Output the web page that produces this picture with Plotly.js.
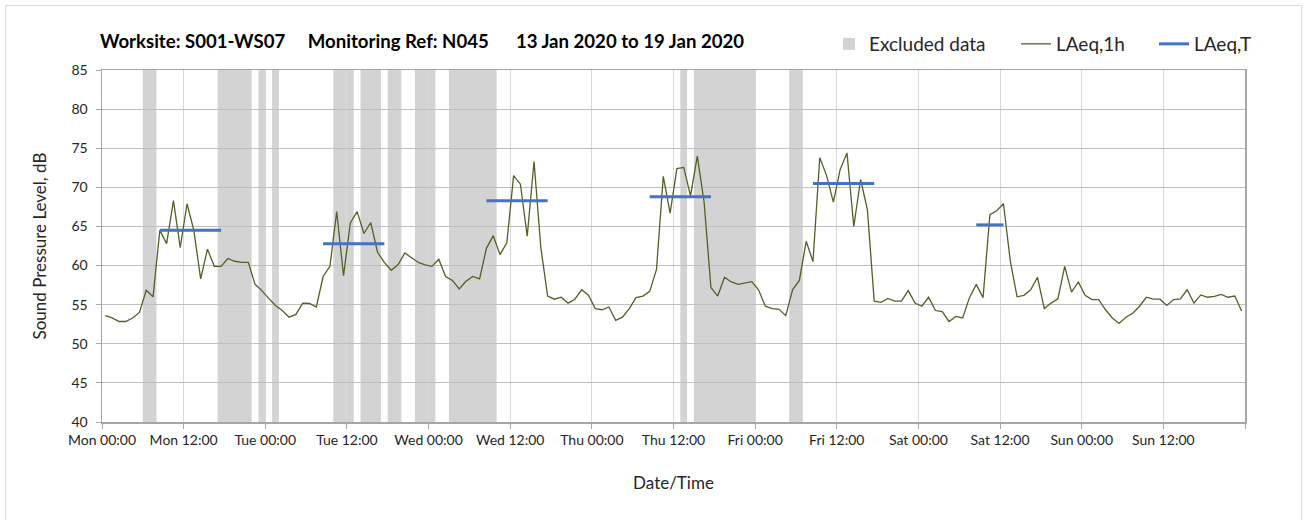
<!DOCTYPE html>
<html>
<head>
<meta charset="utf-8">
<script src="https://cdn.plot.ly/plotly-3.0.1.min.js"></script>
<style>
  html, body { margin: 0; padding: 0; background: #ffffff; }
  #wrap { position: relative; width: 1309px; height: 520px; overflow: hidden; }
  #frame { position: absolute; left: 5px; top: 5px; width: 1297px; height: 530px;
           border: 1.5px solid #d9d9d9; box-sizing: border-box; pointer-events: none; }
  #chart { position: absolute; left: 0; top: 0; width: 1309px; height: 520px; }
</style>
</head>
<body>
<div id="wrap">
  <div id="chart"></div>
  <div id="frame"></div>
</div>
<script>
// Hourly LAeq,1h values (dB), Mon 13 Jan 2020 00:00 onwards, one per hour (168 hours)
const laeq1h = [
  53.6, 53.3, 52.85, 52.85, 53.3, 54.0, 56.85, 56.0, 64.5, 62.8, 68.3, 62.3, 67.9, 64.5, 58.3, 62.1,
  59.9, 59.9, 60.9, 60.55, 60.4, 60.4, 57.6, 56.8, 55.8, 54.9, 54.25, 53.4,
  53.75, 55.2, 55.15, 54.7, 58.6, 59.9, 66.9, 58.7, 65.45, 66.9, 64.1, 65.5, 61.7, 60.4, 59.4, 60.1,
  61.6, 61.0, 60.4, 60.1, 59.9, 60.8, 58.6, 58.1, 57.0, 58.0, 58.6, 58.3,
  62.2, 63.8, 61.4, 62.9, 71.5, 70.4, 63.75, 73.3, 62.3, 56.1, 55.7, 55.95, 55.2, 55.7, 56.9, 56.2,
  54.5, 54.35, 54.7, 53.0, 53.4, 54.5, 55.9, 56.1, 56.7, 59.5, 71.4, 66.7,
  72.4, 72.55, 68.9, 74.0, 68.1, 57.2, 56.1, 58.5, 57.9, 57.6, 57.75, 57.95, 56.9, 54.8, 54.5, 54.4,
  53.6, 56.9, 58.1, 63.1, 60.5, 73.8, 71.5, 68.1, 72.3, 74.4, 65.0, 71.0,
  67.15, 55.45, 55.3, 55.8, 55.45, 55.45, 56.8, 55.2, 54.8, 55.95, 54.25, 54.1, 52.85, 53.5, 53.3, 55.9,
  57.6, 55.9, 66.5, 67.0, 67.9, 60.6, 56.0, 56.2, 56.9, 58.5, 54.5, 55.2,
  55.75, 59.9, 56.6, 57.9, 56.2, 55.65, 55.65, 54.35, 53.3, 52.6, 53.4, 53.9, 54.8, 55.95, 55.7, 55.7,
  54.9, 55.65, 55.75, 56.9, 55.2, 56.25, 55.95, 56.05, 56.3, 55.95, 56.1, 54.2
];

// LAeq,T assessment periods (hours from Mon 00:00) and levels (dB)
const periodStart = [8, 32, 56, 80, 104, 128];
const periodEnd   = [18, 42, 66, 90, 114, 133];
const laeqT       = [64.5, 62.8, 68.3, 68.8, 70.5, 65.2];

// Excluded data periods (hours from Mon 00:00)
const excludedStart = [6, 17, 23, 25, 34, 38, 42, 46, 51, 85, 87, 101];
const excludedEnd   = [8, 22, 24, 26, 37, 41, 44, 49, 58, 86, 96, 103];

// Axis ticks (hours from Mon 00:00) and labels
const tickHours  = [0, 12, 24, 36, 48, 60, 72, 84, 96, 108, 120, 132, 144, 156, 168];
const tickLabels = ['Mon 00:00', 'Mon 12:00', 'Tue 00:00', 'Tue 12:00', 'Wed 00:00', 'Wed 12:00',
                    'Thu 00:00', 'Thu 12:00', 'Fri 00:00', 'Fri 12:00', 'Sat 00:00', 'Sat 12:00',
                    'Sun 00:00', 'Sun 12:00', ''];

const yMin = 40, yMax = 85;

// hourly values plotted at the middle of each hour
const hourX = laeq1h.map((v, i) => i + 0.5);

// LAeq,T segments
const tX = [], tY = [];
for (let i = 0; i < laeqT.length; i++) {
  tX.push(periodStart[i] + 0.5, periodEnd[i] - 0.5, null);
  tY.push(laeqT[i], laeqT[i], null);
}

const FONT = 'Lato, "Open Sans", sans-serif';
const SP = '\u00a0';

// Excluded data bands, drawn as rectangles on the data axes (below the gridlines)
const shapes = excludedStart.map((s, i) => ({
  type: 'rect',
  xref: 'x', yref: 'y',
  x0: s, x1: excludedEnd[i],
  y0: yMin, y1: yMax,
  fillcolor: '#d3d3d3',
  line: { width: 0 },
  layer: 'below',
  name: 'Excluded data',
  legendgroup: 'excluded',
  legend: 'legend',
  showlegend: i === 0
}));

const traces = [
  {
    type: 'scatter',
    mode: 'lines',
    name: 'LAeq,1h',
    x: hourX,
    y: laeq1h,
    legend: 'legend2',
    line: { color: '#4f6228', width: 1.3 }
  },
  {
    type: 'scatter',
    mode: 'lines',
    name: 'LAeq,T',
    x: tX,
    y: tY,
    connectgaps: false,
    legend: 'legend3',
    line: { color: '#4472c4', width: 3 }
  }
];

function legendAt(xpx) {
  return {
    orientation: 'h',
    xref: 'container', yref: 'container',
    x: xpx / 1309, xanchor: 'left',
    y: 1 - 44 / 520, yanchor: 'middle',
    font: { family: FONT, size: 19, color: '#262626' },
    bgcolor: 'rgba(0,0,0,0)',
    borderwidth: 0
  };
}

const layout = {
  width: 1309,
  height: 520,
  paper_bgcolor: '#ffffff',
  plot_bgcolor: '#ffffff',
  margin: { l: 102, r: 64, t: 70, b: 98 },
  font: { family: FONT, color: '#404040', size: 14 },
  title: {
    text: '<b>Worksite: S001-WS07' + SP.repeat(5) + 'Monitoring Ref: N045' + SP.repeat(6) + '13 Jan 2020 to 19 Jan 2020</b>',
    font: { family: FONT, size: 18.6, color: '#000000' },
    xref: 'container', yref: 'container',
    x: 100 / 1309, xanchor: 'left',
    y: 1 - 41 / 520, yanchor: 'middle'
  },
  showlegend: true,
  legend: legendAt(829),
  legend2: legendAt(1016),
  legend3: legendAt(1154),
  shapes: shapes,
  xaxis: {
    range: [0, 168],
    tickmode: 'array',
    tickvals: tickHours,
    ticktext: tickLabels,
    ticks: 'outside',
    ticklen: 5,
    tickcolor: '#a6a6a6',
    tickwidth: 1,
    tickfont: { family: FONT, size: 14, color: '#262626' },
    showgrid: true,
    gridcolor: '#d9d9d9',
    gridwidth: 1,
    showline: true,
    linecolor: '#a6a6a6',
    linewidth: 1.5,
    mirror: true,
    zeroline: false,
    title: { text: 'Date/Time', font: { family: FONT, size: 17, color: '#262626' }, standoff: 30 }
  },
  yaxis: {
    range: [yMin, yMax],
    tickmode: 'linear',
    tick0: 40,
    dtick: 5,
    ticks: 'outside',
    ticklen: 5,
    tickcolor: '#a6a6a6',
    tickwidth: 1,
    ticklabelstandoff: 5,
    tickfont: { family: FONT, size: 14, color: '#262626' },
    showgrid: true,
    gridcolor: '#bfbfbf',
    gridwidth: 1,
    showline: true,
    linecolor: '#a6a6a6',
    linewidth: 1.5,
    mirror: true,
    zeroline: false,
    title: { text: 'Sound Pressure Level, dB', font: { family: FONT, size: 17, color: '#262626' }, standoff: 20 }
  }
};

Plotly.newPlot('chart', traces, layout, { displayModeBar: false, staticPlot: true });
</script>
</body>
</html>
